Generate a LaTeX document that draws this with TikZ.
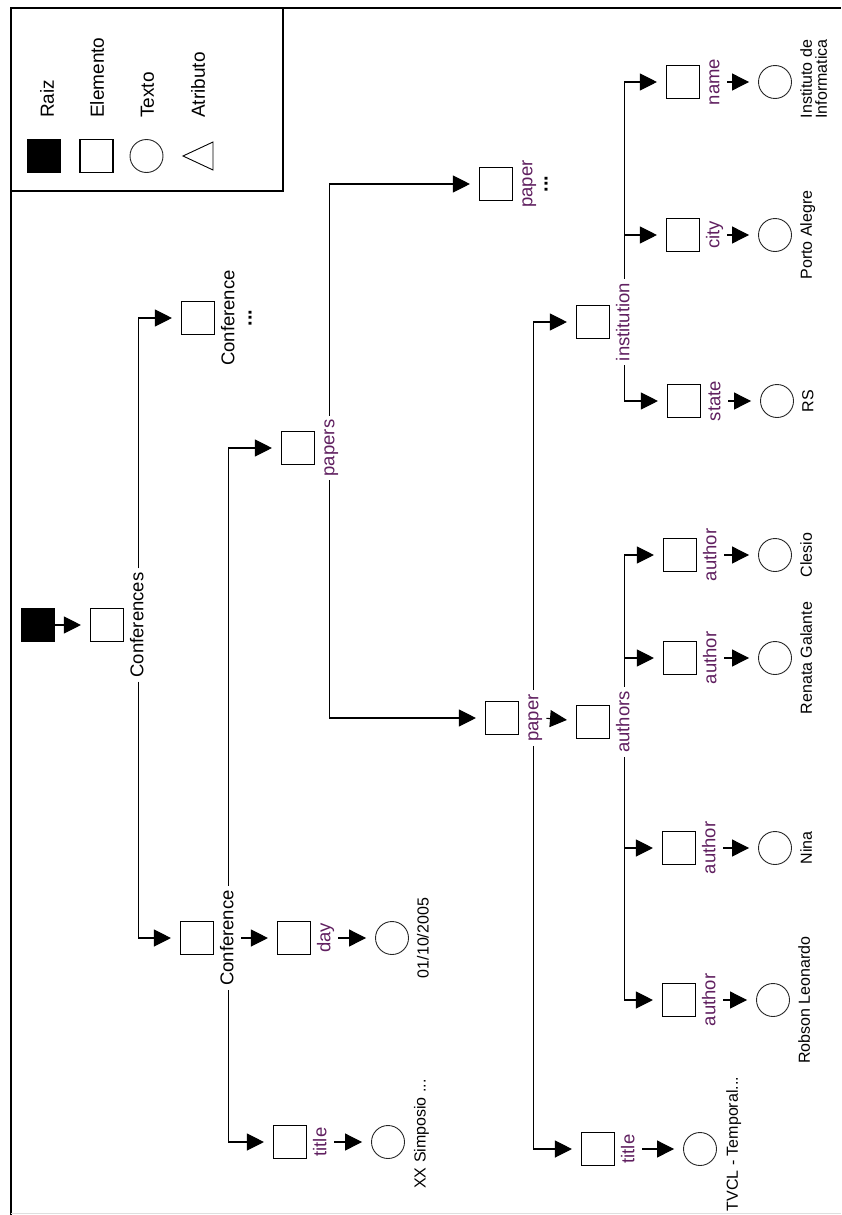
\documentclass[tikz,border=0pt]{standalone}
\usepackage{fontspec}
\setmainfont{Liberation Sans}
\usetikzlibrary{arrows.meta}
\definecolor{tagpurple}{RGB}{96,32,96}

\begin{document}
\begin{tikzpicture}[x=1pt, y=-1pt,
  elem/.style={draw, line width=1.1pt, minimum size=33pt, inner sep=0pt},
  rootel/.style={elem, fill=black},
  txt/.style={draw, circle, line width=0.9pt, black!85, minimum size=33pt, inner sep=0pt},
  tag/.style={rotate=90, anchor=north, inner sep=0pt, text height=13pt, text depth=4pt,
    font=\fontsize{18.5}{18.5}\selectfont, text=tagpurple},
  more/.style={rotate=90, anchor=north, inner sep=0pt, font=\fontsize{20}{20}\selectfont\bfseries},
  val/.style={rotate=90, anchor=north, inner sep=0pt, align=center,
    font=\fontsize{16}{15}\selectfont},
  leg/.style={rotate=90, anchor=west, inner sep=0pt, text height=13.5pt, text depth=4pt,
    font=\fontsize{19}{19}\selectfont},
  link/.style={line width=1.1pt, -{Triangle[length=17pt,width=17pt]}, shorten >=9pt},
  fromtag/.style={link, shorten <=4pt}]
\useasboundingbox (0,0) rectangle (841,1215);

% frame and legend box
\draw[line width=1.2pt] (11,1215) -- (11,8) -- (841,8);
\draw[line width=1.2pt] (11,191) -- (283,191) -- (283,8);
\draw[gray!25] (11,1213) -- (841,1213);

% legend
\node[rootel] (lgRaiz) at (44,156) {};
\node[elem] (lgElem) at (96.5,156) {};
\node[txt] (lgTexto) at (146.5,156) {};
\coordinate (lgAttr) at (198,156);
\draw[line width=0.9pt] (lgAttr) ++(-15,0) -- ++(30,-14) -- ++(0,28) -- cycle;
\node[leg] (tRaiz) at (49,118) {Raiz};
\node[leg] (tElem) at (99,118) {Elemento};
\node[leg] (tTexto) at (149,118) {Texto};
\node[leg] (tAttr) at (200,118) {Atributo};

% elements
\node[rootel] (root) at (38,625) {};
\node[elem] (sConfs) at (107,625) {};
\node[elem] (sConfA) at (198,318) {};
\node[elem] (sConf) at (197,938) {};
\node[elem] (sPapers) at (298,448) {};
\node[elem] (sDay) at (294,938) {};
\node[elem] (sTitle) at (290,1142) {};
\node[elem] (sPaperA) at (496,184) {};
\node[elem] (sPaper) at (502,718) {};
\node[elem] (sInst) at (593,322) {};
\node[elem] (sAuthors) at (593,722) {};
\node[elem] (sTitleP) at (598,1149) {};
\node[elem] (sName) at (683,82) {};
\node[elem] (sCity) at (683,235) {};
\node[elem] (sState) at (684,401) {};
\node[elem] (sAuA) at (680,555) {};
\node[elem] (sAuB) at (680,658) {};
\node[elem] (sAuC) at (679,848) {};
\node[elem] (sAuD) at (679,1000) {};

% element names
\node[tag, text=black] (lConfs) at ([xshift=6pt]sConfs.east) {Conferences};
\node[tag, text=black] (lConfA) at ([xshift=6pt]sConfA.east) {Conference};
\node[more] (dConfA) at ([xshift=10pt]lConfA.south) {...};
\node[tag, text=black] (lConf) at ([xshift=6pt]sConf.east) {Conference};
\node[tag] (lPapers) at ([xshift=6pt]sPapers.east) {papers};
\node[tag] (lDay) at ([xshift=6pt]sDay.east) {day};
\node[tag] (lTitle) at ([xshift=6pt]sTitle.east) {title};
\node[tag] (lPaperA) at ([xshift=6pt]sPaperA.east) {paper};
\node[more] (dPaperA) at ([xshift=8pt]lPaperA.south) {...};
\node[tag] (lPaper) at ([xshift=6pt]sPaper.east) {paper};
\node[tag] (lInst) at ([xshift=6pt]sInst.east) {institution};
\node[tag] (lAuthors) at ([xshift=6pt]sAuthors.east) {authors};
\node[tag] (lTitleP) at ([xshift=6pt]sTitleP.east) {title};
\node[tag] (lName) at ([xshift=6pt]sName.east) {name};
\node[tag] (lCity) at ([xshift=6pt]sCity.east) {city};
\node[tag] (lState) at ([xshift=6pt]sState.east) {state};
\foreach \a in {A,B,C,D}
  \node[tag] (lAu\a) at ([xshift=6pt]sAu\a.east) {author};

% text values
\node[txt] (cDay) at (392,938) {};
\node[txt] (cTitle) at (388,1142) {};
\node[txt] (cTitleP) at (700,1149) {};
\node[txt] (cName) at (775,82) {};
\node[txt] (cCity) at (775,235) {};
\node[txt] (cState) at (777,401) {};
\node[txt] (cAuA) at (775,555) {};
\node[txt] (cAuB) at (775,658) {};
\node[txt] (cAuC) at (775,848) {};
\node[txt] (cAuD) at (773,1000) {};
\node[val] at ([xshift=8pt]cDay.east) {01/10/2005};
\node[val] at ([xshift=9pt,yshift=8pt]cTitle.east) {XX Simposio ...};
\node[val] at ([xshift=9pt,yshift=5pt]cTitleP.east) {TVCL - Temporal...};
\node[val] at ([xshift=8pt,yshift=3pt]cName.east) {Instituto de\\Informatica};
\node[val] at ([xshift=8pt]cCity.east) {Porto Alegre};
\node[val] at ([xshift=8pt]cState.east) {RS};
\node[val] at ([xshift=8pt]cAuA.east) {Clesio};
\node[val] at ([xshift=8pt]cAuB.east) {Renata Galante};
\node[val] at ([xshift=8pt]cAuC.east) {Nina};
\node[val] at ([xshift=8pt]cAuD.east) {Robson Leonardo};

% connectors
\draw[link] (root) -- (sConfs);
\draw[fromtag] (lConfs.east) |- (sConfA);
\draw[fromtag] (lConfs.west) |- (sConf);
\draw[fromtag] (lConf.east) |- (sPapers);
\draw[fromtag] (lConf.south) -- (sDay);
\draw[fromtag] (lConf.west) |- (sTitle);
\draw[fromtag] (lPapers.east) |- (sPaperA);
\draw[fromtag] (lPapers.west) |- (sPaper);
\draw[fromtag] (lPaper.east) |- (sInst);
\draw[fromtag] (lPaper.south) -- (sAuthors);
\draw[fromtag] (lPaper.west) |- (sTitleP);
\draw[fromtag] (lInst.east) |- (sName);
\draw[link] (lInst.east |- sCity) -- (sCity);
\draw[fromtag] (lInst.west) |- (sState);
\draw[fromtag] (lAuthors.east) |- (sAuA);
\draw[link] (lAuthors.east |- sAuB) -- (sAuB);
\draw[fromtag] (lAuthors.west) |- (sAuD);
\draw[link] (lAuthors.west |- sAuC) -- (sAuC);
\draw[fromtag] (lDay.south) -- (cDay);
\draw[fromtag] (lTitle.south) -- (cTitle);
\draw[fromtag] (lTitleP.south) -- (cTitleP);
\draw[fromtag] (lName.south) -- (cName);
\draw[fromtag] (lCity.south) -- (cCity);
\draw[fromtag] (lState.south) -- (cState);
\foreach \a in {A,B,C,D}
  \draw[fromtag] (lAu\a.south) -- (cAu\a);
\end{tikzpicture}
\end{document}
